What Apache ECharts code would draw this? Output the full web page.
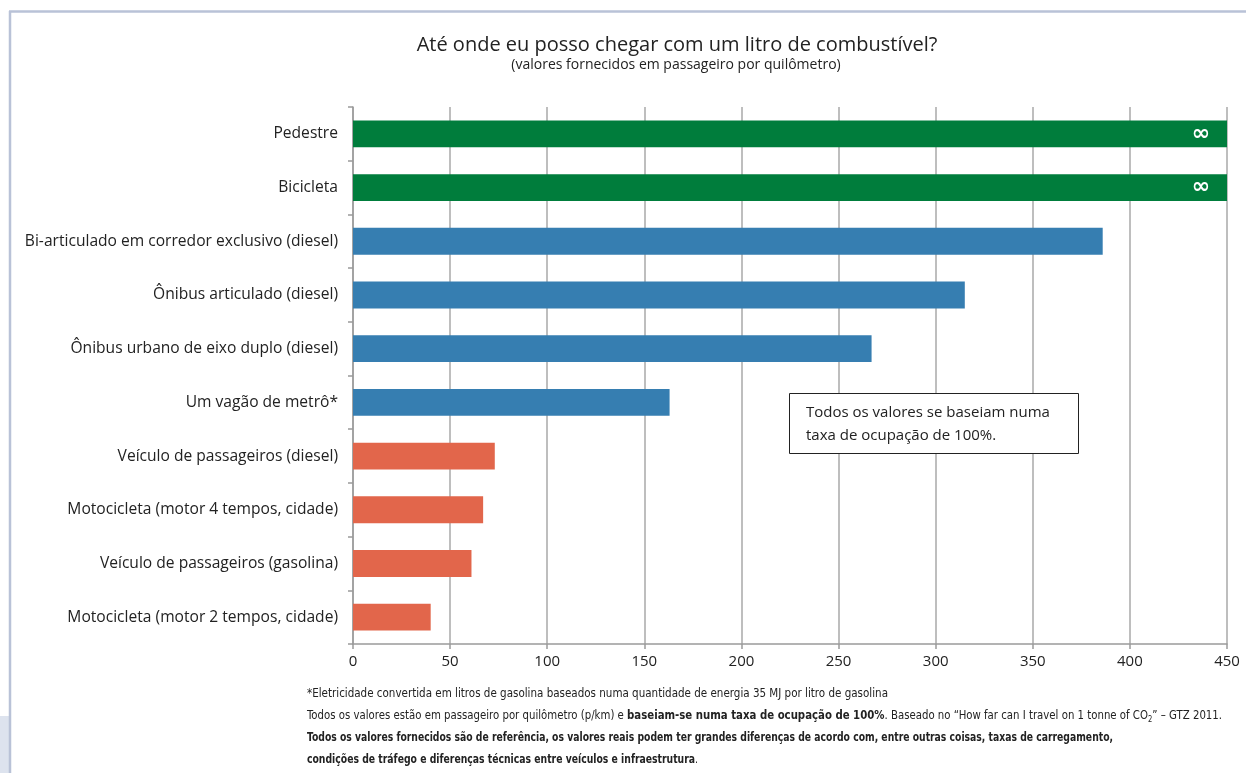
<!DOCTYPE html>
<html>
<head>
<meta charset="utf-8">
<script src="https://cdn.jsdelivr.net/npm/echarts@6/dist/echarts.min.js"></script>
<style>
html,body{margin:0;padding:0;background:#fff;}
#chart{width:1246px;height:773px;}
</style>
</head>
<body>
<div id="chart"></div>
<script>
// ---- data ----
var categories = [
  'Pedestre',
  'Bicicleta',
  'Bi-articulado em corredor exclusivo (diesel)',
  'Ônibus articulado (diesel)',
  'Ônibus urbano de eixo duplo (diesel)',
  'Um vagão de metrô*',
  'Veículo de passageiros (diesel)',
  'Motocicleta (motor 4 tempos, cidade)',
  'Veículo de passageiros (gasolina)',
  'Motocicleta (motor 2 tempos, cidade)'
];
// passengers-km per litre; Pedestre and Bicicleta are infinite (drawn to axis end)
var values = [450, 450, 386, 315, 267, 163, 73, 67, 61, 40];
var infinite = [true, true, false, false, false, false, false, false, false, false];
var groups = ['active', 'active', 'public', 'public', 'public', 'public', 'private', 'private', 'private', 'private'];
var xTicks = [0, 50, 100, 150, 200, 250, 300, 350, 400, 450];

var titleText = 'Até onde eu posso chegar com um litro de combustível?';
var subtitleText = '(valores fornecidos em passageiro por quilômetro)';
var noteText = ['Todos os valores se baseiam numa', 'taxa de ocupação de 100%.'];

// footnote segments: [text, style]
var footLines = [
  { y: 694, w: 581, segs: [['*Eletricidade convertida em litros de gasolina baseados numa quantidade de energia 35 MJ por litro de gasolina', 'n']] },
  { y: 716, w: 915, segs: [
      ['Todos os valores estão em passageiro por quilômetro (p/km) e ', 'n'],
      ['baseiam-se numa taxa de ocupação de 100%', 'b'],
      ['. Baseado no “How far can I travel on 1 tonne of CO', 'n'],
      ['2', 'sub'],
      ['” – GTZ 2011.', 'n']] },
  { y: 738, w: 806, segs: [['Todos os valores fornecidos são de referência, os valores reais podem ter grandes diferenças de acordo com, entre outras coisas, taxas de carregamento,', 'b']] },
  { y: 760, w: 391, segs: [
      ['condições de tráfego e diferenças técnicas entre veículos e infraestrutura', 'b'],
      ['.', 'n']] }
];

var groupColors = { active: '#007d3c', public: '#367eb1', private: '#e2664b' };

var chart = echarts.init(document.getElementById('chart'), null, { renderer: 'canvas' });

var FONT = '"Open Sans", "Noto Sans", sans-serif';
var NARROW = '"DejaVu Sans Condensed", "Liberation Sans", sans-serif';
var FS = 12;
var segFonts = {
  n: FS + 'px ' + NARROW,
  b: 'bold ' + FS + 'px ' + NARROW,
  sub: '8px ' + NARROW
};
var ctx = document.createElement('canvas').getContext('2d');
function measure(t, f) { ctx.font = f; return ctx.measureText(t).width; }

var footGraphics = footLines.map(function (line) {
  var total = 0;
  var txt = '';
  line.segs.forEach(function (s) {
    total += measure(s[0], segFonts[s[1]]);
    txt += '{' + s[1] + '|' + s[0] + '}';
  });
  return {
    type: 'text', silent: true, z: 100, x: 307, y: line.y, scaleX: line.w / total,
    style: {
      text: txt, fill: '#222', font: segFonts.n, verticalAlign: 'middle',
      rich: {
        n: { fontSize: FS, fontFamily: NARROW, fill: '#222' },
        b: { fontSize: FS, fontFamily: NARROW, fontWeight: 'bold', fill: '#222' },
        sub: { fontSize: 8, fontFamily: NARROW, fill: '#222', verticalAlign: 'bottom', padding: [7, 0, 0, 0] }
      }
    }
  };
});

var seriesData = values.map(function (v, i) {
  return {
    value: v,
    itemStyle: { color: groupColors[groups[i]] },
    label: {
      show: infinite[i],
      position: 'insideRight',
      formatter: '∞',
      color: '#ffffff',
      fontSize: 22,
      fontWeight: 'bold',
      distance: 17,
      fontFamily: 'DejaVu Sans'
    }
  };
});

var option = {
  backgroundColor: '#ffffff',
  animation: false,
  grid: { left: 353, right: 19, top: 107, bottom: 129, containLabel: false },
  xAxis: {
    type: 'value',
    min: xTicks[0],
    max: xTicks[xTicks.length - 1],
    interval: xTicks[1] - xTicks[0],
    axisLine: { show: true, lineStyle: { color: '#9a9a9a', width: 1.5 } },
    axisTick: { show: true, length: 5, lineStyle: { color: '#9a9a9a', width: 1.5 } },
    splitLine: { show: true, lineStyle: { color: '#a8a8a8', width: 1.5 } },
    axisLabel: { color: '#222', fontSize: 15, fontFamily: FONT, margin: 10 }
  },
  yAxis: {
    type: 'category',
    data: categories,
    inverse: true,
    axisLine: { show: true, lineStyle: { color: '#9a9a9a', width: 1.5 } },
    axisTick: { show: true, length: 5, lineStyle: { color: '#9a9a9a', width: 1.5 } },
    axisLabel: { color: '#222', fontSize: 15.6, fontFamily: FONT, margin: 15 },
    splitLine: { show: false }
  },
  series: [{
    type: 'bar',
    data: seriesData,
    barWidth: '50%'
  }],
  graphic: [
    // outer frame
    { type: 'rect', silent: true, z: 100, shape: { x: 0, y: 716, width: 10, height: 57 }, style: { fill: '#dde3ee' } },
    { type: 'line', silent: true, z: 100, shape: { x1: 9, y1: 11.5, x2: 1246, y2: 11.5 }, style: { stroke: '#b9c2d7', lineWidth: 2.5 } },
    { type: 'line', silent: true, z: 100, shape: { x1: 10, y1: 11, x2: 10, y2: 773 }, style: { stroke: '#b9c2d7', lineWidth: 2.5 } },
    // titles
    { type: 'text', silent: true, z: 100, x: 677, y: 45, style: { text: titleText, fill: '#222', font: '20px ' + FONT, align: 'center', verticalAlign: 'middle' } },
    { type: 'text', silent: true, z: 100, x: 676, y: 65, style: { text: subtitleText, fill: '#222', font: '14px ' + FONT, align: 'center', verticalAlign: 'middle' } },
    // note box
    { type: 'rect', silent: true, z: 100, shape: { x: 789.5, y: 393.5, width: 289, height: 60 }, style: { fill: '#fff', stroke: '#222', lineWidth: 1 } },
    { type: 'text', silent: true, z: 101, x: 806, y: 413, style: { text: noteText[0], fill: '#222', font: '15px ' + FONT, verticalAlign: 'middle' } },
    { type: 'text', silent: true, z: 101, x: 806, y: 436, style: { text: noteText[1], fill: '#222', font: '15px ' + FONT, verticalAlign: 'middle' } }
  ].concat(footGraphics)
};
chart.setOption(option);
</script>
</body>
</html>
